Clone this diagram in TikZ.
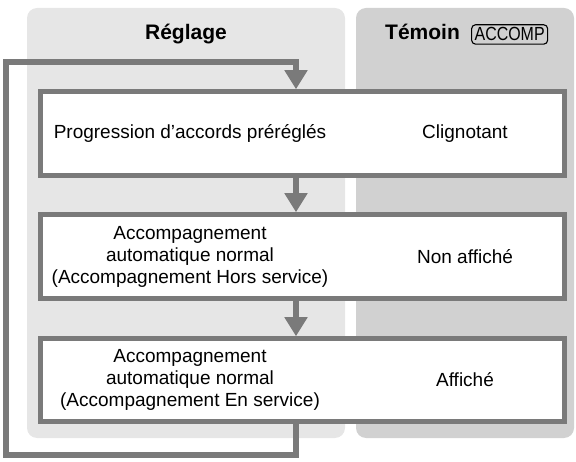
\documentclass[tikz,border=0pt]{standalone}
\usepackage{fontspec}
\setmainfont{Liberation Sans}
\newfontfamily\narrowfont[FakeStretch=0.84]{Liberation Sans}
\usetikzlibrary{arrows.meta,positioning}
\definecolor{panelleft}{RGB}{230,230,230}
\definecolor{panelright}{RGB}{209,209,209}
\definecolor{flowgray}{RGB}{122,122,122}
\begin{document}
\begin{tikzpicture}[x=1pt,y=-1pt,>={Triangle[width=22pt,length=19pt]},
  flow/.style={draw=flowgray,line width=6pt},
  rowbox/.style={draw=flowgray,line width=4.5pt,fill=white,minimum width=524pt,minimum height=84pt,inner sep=0pt},
  rowtext/.style={align=center,font=\fontsize{19}{22}\selectfont,inner sep=0pt},
  headtext/.style={font=\fontsize{21}{25}\selectfont\bfseries,inner sep=0pt},
  accompbox/.style={draw,rounded corners=4pt,line width=1.1pt,inner xsep=3pt,inner ysep=3pt,font=\narrowfont\fontsize{19}{22}\selectfont}]
  \useasboundingbox (0,0) rectangle (576,462);
  % panels
  \fill[panelleft,rounded corners=10pt] (27,8) rectangle (345,438);
  \fill[panelright,rounded corners=10pt] (356,8) rectangle (574,438);
  \node[headtext,anchor=base] (setting) at (186,40) {Réglage};
  \node[headtext,anchor=base west] (lamp) at (385,40) {Témoin};
  \node[accompbox,anchor=base west] (accomp) at ([xshift=11pt,yshift=-1pt]lamp.base east) {ACCOMP};
  % rows
  \node[rowbox] (row1) at (302.5,133.5) {};
  \node[rowbox] (row2) at (302.5,256.5) {};
  \node[rowbox,minimum height=83pt] (row3) at (302.5,380) {};
  \node[rowtext] (set1) at (190,133.5) {Progression d’accords préréglés};
  \node[rowtext] (show1) at (465,133.5) {Clignotant};
  \node[rowtext] (set2) at (190,256.5) {Accompagnement\\automatique normal\\(Accompagnement Hors service)};
  \node[rowtext] (show2) at (465,256.5) {Non affiché};
  \node[rowtext] (set3) at (190,380) {Accompagnement\\automatique normal\\(Accompagnement En service)};
  \node[rowtext] (show3) at (465,380) {Affiché};
  % flow
  \coordinate (loopx) at (296,0);
  \coordinate (loopbl) at (6,454.5);
  \coordinate (looptl) at (6,62);
  \draw[flow,->] (row1.south -| loopx) -- (row2.north -| loopx);
  \draw[flow,->] (row2.south -| loopx) -- (row3.north -| loopx);
  \draw[flow,->] (row3.south -| loopx) |- (loopbl) -- (looptl) -| (row1.north -| loopx);
\end{tikzpicture}
\end{document}
